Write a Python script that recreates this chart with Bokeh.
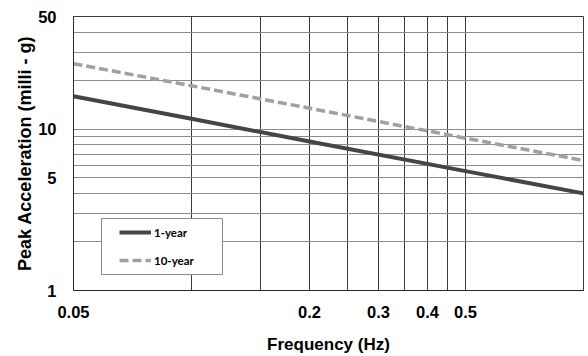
from bokeh.plotting import figure
from bokeh.models import FixedTicker, Legend, LegendItem, BoxAnnotation
from bokeh.embed import file_html
from bokeh.resources import INLINE

# ---- data ----
freq = [0.05, 0.1, 0.2, 0.5, 1.0]
acc_1yr = [16.0, 11.6, 8.4, 5.5, 4.0]
acc_10yr = [25.5, 18.6, 13.5, 8.8, 6.4]

x_ticks = [0.05, 0.2, 0.3, 0.4, 0.5]
x_tick_labels = ["0.05", "0.2", "0.3", "0.4", "0.5"]
y_ticks = [1, 5, 10, 50]
y_tick_labels = ["1", "5", "10", "50"]
x_grid = [0.05, 0.1, 0.15, 0.2, 0.25, 0.3, 0.35, 0.4, 0.45, 0.5, 1.0]
y_grid = [1, 2, 3, 4, 5, 6, 7, 8, 9, 10, 20, 30, 40, 50]

FONT = "Liberation Sans"

p = figure(width=588, height=356, x_axis_type="log", y_axis_type="log",
           x_range=(0.05, 1.0), y_range=(1, 50),
           output_backend="svg", toolbar_location=None,
           min_border_left=73, min_border_right=5, min_border_top=16,
           min_border_bottom=64)

p.background_fill_color = "white"
p.border_fill_color = "white"
p.outline_line_color = "#3a3a3a"
p.outline_line_width = 1
p.outline_line_alpha = 1.0

p.xgrid.ticker = FixedTicker(ticks=x_grid)
p.xgrid.grid_line_color = "#3a3a3a"
p.xgrid.grid_line_width = 1
p.ygrid.ticker = FixedTicker(ticks=y_grid)
p.ygrid.grid_line_color = "#8c8c8c"
p.ygrid.grid_line_width = 1

for ax in (p.xaxis[0], p.yaxis[0]):
    ax.major_tick_line_color = None
    ax.minor_tick_line_color = None
    ax.axis_line_color = "#2a2a2a"
    ax.major_label_text_font = FONT
    ax.major_label_text_font_style = "bold"
    ax.major_label_text_font_size = "16.5px"
    ax.major_label_text_color = "black"
    ax.axis_label_text_font = FONT
    ax.axis_label_text_font_style = "bold"
    ax.axis_label_text_color = "black"

p.xaxis.ticker = FixedTicker(ticks=x_ticks)
p.xaxis.major_label_overrides = dict(zip(x_ticks, x_tick_labels))
p.xaxis.major_label_standoff = 9
p.xaxis.axis_label = "Frequency (Hz)"
p.xaxis.axis_label_text_font_size = "17px"
p.xaxis.axis_label_standoff = 14

p.yaxis.ticker = FixedTicker(ticks=y_ticks)
p.yaxis.major_label_overrides = dict(zip(y_ticks, y_tick_labels))
p.yaxis.major_label_standoff = 11
p.yaxis.axis_label = "Peak Acceleration (milli - g)"
p.yaxis.axis_label_text_font_size = "18px"
p.yaxis.axis_label_standoff = 0

r1 = p.line(freq, acc_1yr, line_color="#454545", line_width=4)
r2 = p.line(freq, acc_10yr, line_color="#a0a0a0", line_width=3.5, line_dash="9 4")

box = BoxAnnotation(left=28, right=149, bottom=16, top=72,
                    left_units="screen", right_units="screen",
                    top_units="screen", bottom_units="screen",
                    fill_color="white", fill_alpha=1.0,
                    line_color="#8c8c8c", line_width=1, line_alpha=1.0)
p.add_layout(box)

legend = Legend(items=[LegendItem(label="1-year", renderers=[r1]),
                       LegendItem(label="10-year", renderers=[r2])],
                location=(46, 23), padding=0, margin=0,
                border_line_alpha=0, background_fill_alpha=0,
                glyph_width=32, glyph_height=14, label_height=14,
                label_standoff=3, spacing=14,
                label_text_font="Lato", label_text_font_style="bold",
                label_text_font_size="11.5px", label_text_color="black")
p.add_layout(legend, "center")

open("out.html", "w").write(file_html(p, INLINE))
